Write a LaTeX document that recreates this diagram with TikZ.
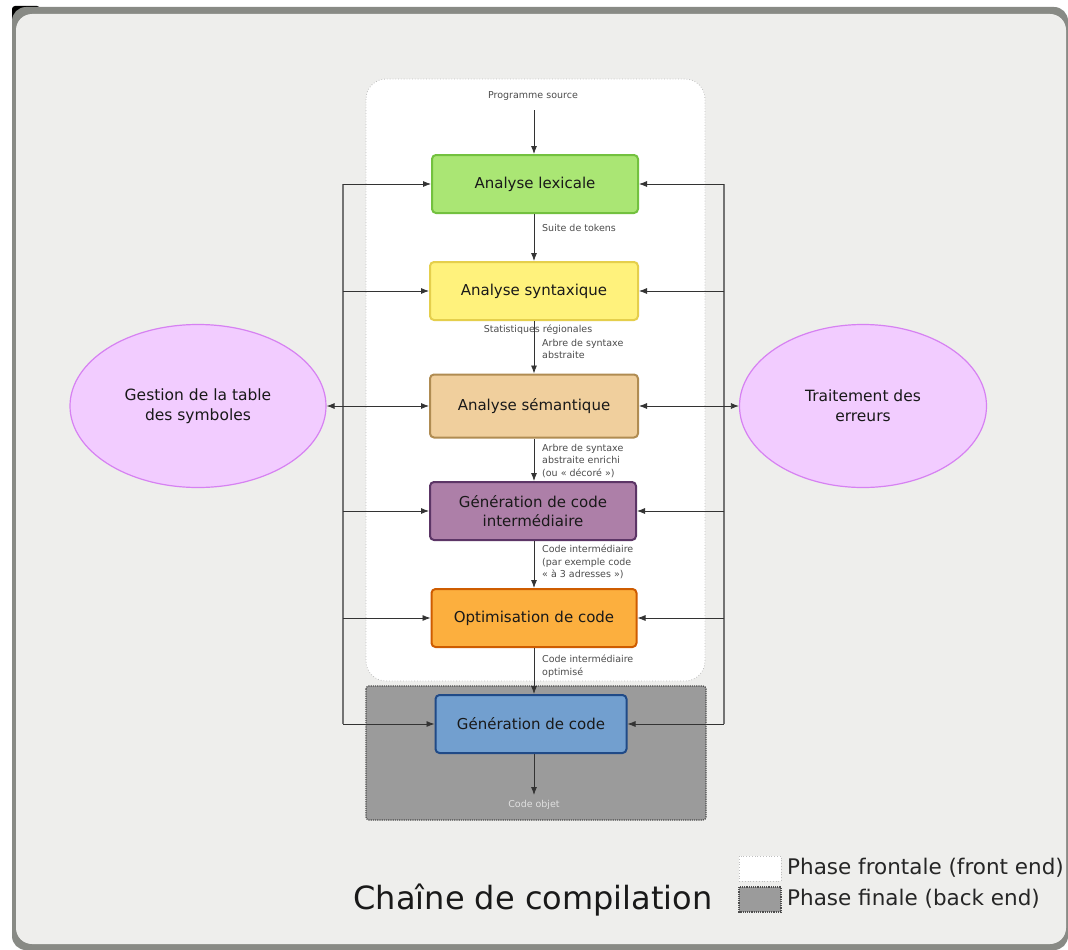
\documentclass[tikz,border=0pt]{standalone}
\usepackage{fontspec}
\setmainfont{DejaVu Sans}
\usetikzlibrary{arrows.meta,shapes.geometric}

\definecolor{cadre}{HTML}{888A85}
\definecolor{fond}{HTML}{EEEEEC}
\definecolor{vertf}{HTML}{AAE674}
\definecolor{vertb}{HTML}{73C13F}
\definecolor{jaunef}{HTML}{FFF27C}
\definecolor{jauneb}{HTML}{E5CF4C}
\definecolor{beigef}{HTML}{F0CF9D}
\definecolor{beigeb}{HTML}{B08C52}
\definecolor{prunef}{HTML}{AD7FA8}
\definecolor{pruneb}{HTML}{5C3566}
\definecolor{orangef}{HTML}{FCAF3E}
\definecolor{orangeb}{HTML}{CE5C00}
\definecolor{bleuf}{HTML}{729FCF}
\definecolor{bleub}{HTML}{204A87}
\definecolor{violetf}{HTML}{F2CCFF}
\definecolor{violetb}{HTML}{D681F2}
\definecolor{finale}{HTML}{9B9B9B}

\pgfdeclarelayer{dessous}
\pgfsetlayers{dessous, main}
\tikzstyle{etape}=[rectangle,rounded corners=4pt,line width=2pt,minimum width=207pt,minimum height=58pt,inner sep=0pt,align=center,text=black!90,font=\fontsize{15}{19}\selectfont]
\tikzstyle{gestion}=[ellipse,draw=violetb,fill=violetf,line width=1.2pt,minimum width=256pt,minimum height=163pt,inner sep=0pt,align=center,text=black!90,font=\fontsize{15.5}{20}\selectfont]
\tikzstyle{note}=[anchor=north west,inner sep=0pt,align=left,text=black!70,font=\fontsize{9.5}{12.5}\selectfont]
\tikzstyle{fleche}=[draw=black!80,line width=0.8pt,-{Latex[length=8pt,width=6pt]}]
\tikzstyle{trait}=[draw=black!55,line width=1.2pt]

\begin{document}
\begin{tikzpicture}[x=1pt,y=-1pt]
		\useasboundingbox (0,0) rectangle (1068,950);
		\begin{pgfonlayer}{dessous}
			% cadre et fond
			\fill[black,rounded corners=3pt] (12,6) rectangle (40,30);
			\fill[cadre,rounded corners=14pt] (12,7) rectangle (1068,950);
			\fill[fond,rounded corners=16pt] (16,14) rectangle (1066,944);
			% phases
			\filldraw[draw=black!25,fill=white,dotted,line width=0.8pt,rounded corners=20pt] (366,79) rectangle (705,681);
			\filldraw[draw=black!70,fill=finale,densely dotted,line width=1.2pt,rounded corners=3pt] (366,686) rectangle (706,820);
		\end{pgfonlayer}

		\node (lex) at (535,184) [etape,draw=vertb,fill=vertf,minimum width=206pt] {Analyse lexicale};
		\node (syn) at (534,291) [etape,draw=jauneb,fill=jaunef,minimum width=208pt] {Analyse syntaxique};
		\node (sem) at (534,406) [etape,draw=beigeb,fill=beigef,minimum width=208pt,minimum height=63pt] {Analyse sémantique};
		\node (int) at (533,511) [etape,draw=pruneb,fill=prunef,minimum width=206pt] {Génération de code\\intermédiaire};
		\node (opt) at (534,618) [etape,draw=orangeb,fill=orangef,minimum width=205pt] {Optimisation de code};
		\node (gen) at (531,724) [etape,draw=bleub,fill=bleuf,minimum width=191pt] {Génération de code};

		\node (tds) at (198,406) [gestion] {Gestion de la table\\des symboles};
		\node (err) at (863,406) [gestion,minimum width=247pt] {Traitement des\\erreurs};

		\node (src) at (533,96) [text=black!70,font=\fontsize{9.5}{12}\selectfont] {Programme source};
		\node (obj) at (534,805) [text=black!12,font=\fontsize{9.5}{12}\selectfont] {Code objet};
		\node (n1) at (542,224) [note] {Suite de tokens};
		\node (stat) at (538,330) [text=black!70,font=\fontsize{9.5}{12}\selectfont] {Statistiques régionales};
		\node (n2) at (542,339) [note] {Arbre de syntaxe\\abstraite};
		\node (n3) at (542,444) [note] {Arbre de syntaxe\\abstraite enrichi\\(ou « décoré »)};
		\node (n4) at (542,545) [note] {Code intermédiaire\\(par exemple code\\« à 3 adresses »)};
		\node (n5) at (542,655) [note] {Code intermédiaire\\optimisé};

		% flot principal
		\coordinate (srcb) at (534,110);
		\coordinate (objh) at (534,795);
		\draw[fleche] (srcb) -- (srcb |- lex.north);
		\draw[fleche] (lex.south -| srcb) -- (syn.north -| srcb);
		\draw[fleche] (syn.south -| srcb) -- (sem.north -| srcb);
		\draw[fleche] (sem.south -| srcb) -- (int.north -| srcb);
		\draw[fleche] (int.south -| srcb) -- (opt.north -| srcb);
		\draw[fleche] (opt.south -| srcb) -- (gen.north -| srcb);
		\draw[fleche] (gen.south -| srcb) -- (objh);

		% liaisons laterales
		\coordinate (gh) at (343,184);
		\coordinate (gb) at (343,724);
		\coordinate (dh) at (724,184);
		\coordinate (db) at (724,724);
		\draw[trait] (gh) -- (gb);
		\draw[trait] (dh) -- (db);
		\foreach \e in {lex,syn,int,opt,gen} {
			\draw[fleche] (gh |- \e.west) -- (\e.west);
			\draw[fleche] (dh |- \e.east) -- (\e.east);
		}
		\draw[fleche,{Latex[length=8pt,width=6pt]}-{Latex[length=8pt,width=6pt]}] (tds.east) -- (sem.west);
		\draw[fleche,{Latex[length=8pt,width=6pt]}-{Latex[length=8pt,width=6pt]}] (sem.east) -- (err.west);

		% titre et legende
		\node (titre) at (533,900) [font=\fontsize{32}{36}\selectfont,text=black!90] {Chaîne de compilation};
		\filldraw[draw=black!25,fill=white,dotted,line width=0.8pt] (739,856) rectangle (781,881);
		\filldraw[draw=black!70,fill=finale,densely dotted,line width=1.2pt] (739,887) rectangle (781,912);
		\node (front) at (787,868) [anchor=west,inner sep=0pt,font=\fontsize{21.5}{24}\selectfont,text=black!85] {Phase frontale (front end)};
		\node (back) at (787,899) [anchor=west,inner sep=0pt,font=\fontsize{21.5}{24}\selectfont,text=black!85] {Phase finale (back end)};
\end{tikzpicture}
\end{document}
